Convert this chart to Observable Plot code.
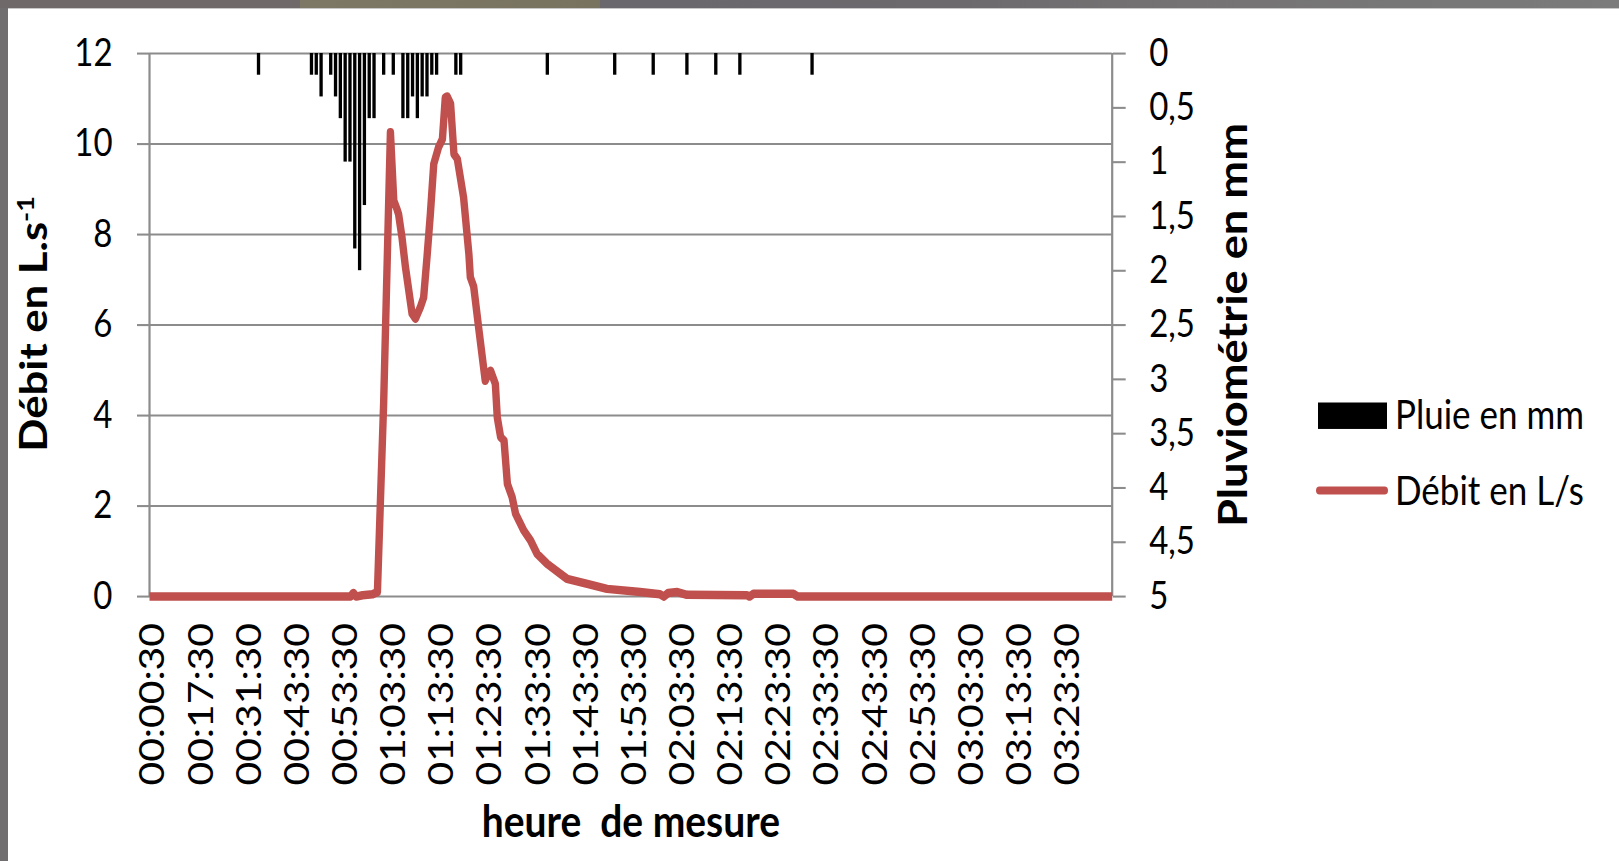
<!DOCTYPE html>
<html>
<head>
<meta charset="utf-8">
<script src="https://cdn.jsdelivr.net/npm/d3@7"></script>
<script src="https://cdn.jsdelivr.net/npm/@observablehq/plot@0.6"></script>
<style>
  html, body { margin: 0; padding: 0; width: 1619px; height: 861px; overflow: hidden; background: #716e70; }
  #topstrip { position: absolute; left: 0; top: 0; width: 1619px; height: 8px;
    background: linear-gradient(to right, #6f6a69 0px, #6f6a69 300px, #7d7766 300px, #78735f 600px, #6a676d 600px, #6d6a6e 960px, #757373 1190px, #7b7b7b 1619px); }
  #panel { position: absolute; left: 8px; top: 8px; width: 1611px; height: 853px; background: #fff; border-top: 1px solid #c8c8c8; }
  #stage { position: absolute; left: 0; top: 0; width: 1619px; transform-origin: 0 0; font-family: Lato, "Open Sans", sans-serif; }
  #stage svg text { white-space: pre; }
  .lg-box { position: absolute; }
  .lg-text { position: absolute; font-family: Lato, sans-serif; font-size: 35px; line-height: 35px; color: #000; white-space: pre; }
</style>
</head>
<body>
<div id="topstrip"></div>
<div id="panel"></div>
<div id="stage"></div>
<script>
// ---- data ----
const timeLabels = ["00:00:30","00:17:30","00:31:30","00:43:30","00:53:30","01:03:30","01:13:30","01:23:30","01:33:30","01:43:30","01:53:30","02:03:30","02:13:30","02:23:30","02:33:30","02:43:30","02:53:30","03:03:30","03:13:30","03:23:30"];
const timeTickPos = [0,10,20,30,40,50,60,70,80,90,100,110,120,130,140,150,160,170,180,190];
const flowTicks = [0,2,4,6,8,10,12];
const rainTicks = [0,0.5,1,1.5,2,2.5,3,3.5,4,4.5,5];

// rain (Pluie en mm): category index and depth
const rainPos = [22,33,34,35,37,38,39,40,41,42,43,44,45,46,48,50,52,53,54,55,56,57,58,59,63,64,82,96,104,111,117,122,137];
const rainMm  = [0.2,0.2,0.2,0.4,0.2,0.4,0.6,1.0,1.0,1.8,2.0,1.4,0.6,0.6,0.2,0.2,0.6,0.6,0.4,0.6,0.4,0.4,0.2,0.2,0.2,0.2,0.2,0.2,0.2,0.2,0.2,0.2,0.2];

// flow (Débit en L/s): category position and value
const debitPos = [-0.75,41.0,41.6,42.2,43.5,45.6,46.6,47.9,49.3,50.0,50.7,51.0,51.7,52.4,53.8,54.5,55.5,56.2,56.9,57.6,58.3,59.3,60.1,60.7,61.1,61.8,62.5,63.2,64.5,65.6,65.9,66.6,67.7,69.0,69.5,70.1,71.1,71.5,72.2,72.9,73.6,74.6,75.3,77.0,78.4,79.8,81.9,86.0,90.2,94.3,101.2,105.3,106.1,107.0,108.9,110.9,123.4,123.9,124.7,133.0,133.9,199.25];
const debitVal = [0,0,0.08,0,0.03,0.05,0.1,4.3,10.26,8.75,8.55,8.45,7.94,7.3,6.25,6.14,6.39,6.61,7.5,8.46,9.56,9.93,10.11,11.03,11.05,10.89,9.78,9.67,8.82,7.57,7.06,6.85,5.88,4.77,4.9,4.99,4.7,3.96,3.52,3.45,2.49,2.19,1.83,1.46,1.24,0.94,0.72,0.39,0.28,0.17,0.1,0.05,0,0.08,0.1,0.04,0.03,0,0.06,0.06,0,0];

const xDomain = [-0.75, 199.25];
const leftTitle = "Débit en L.s";
const leftTitleSup = "-1";
const rightTitle = "Pluviométrie en mm";
const xTitle = "heure  de mesure";
const legendItems = ["Pluie en mm", "Débit en L/s"];

// ---- layout ----
const stretch = 1.15;           // the reference is drawn taller than wide
const W = 1619, H = 861;
const PH = H / stretch;
const fTop = 53, fBottom = 596, fLeft = 149, fRight = 1111.7;

const rain = rainPos.map((p, k) => ({p, mm: rainMm[k]}));
const debit = debitPos.map((p, k) => ({p, v: debitVal[k]}));

// secondary (rain) axis: 0 mm at top, 5 mm at bottom, mapped onto the flow scale
const mmToFlow = d3.scaleLinear([0, 5], [12, 0]);
const fmtMm = v => String(+mmToFlow.invert(v).toFixed(1)).replace(".", ",");

const grid = "#8c8c8c";

const chart = Plot.plot({
  width: W,
  height: PH,
  marginLeft: fLeft,
  marginRight: W - fRight,
  marginTop: fTop / stretch,
  marginBottom: (H - fBottom) / stretch,
  style: {background: "transparent", fontFamily: "Lato, 'Open Sans', sans-serif", color: "#000", overflow: "visible"},
  x: {type: "linear", domain: xDomain},
  y: {domain: [0, 12]},
  marks: [
    Plot.gridY(flowTicks, {stroke: grid, strokeOpacity: 1, strokeWidth: 1.8}),
    Plot.ruleX(xDomain, {stroke: grid, strokeWidth: 2.2}),
    Plot.rect(rain, {
      x1: d => d.p - 0.5, x2: d => d.p + 0.5,
      y1: () => mmToFlow(0), y2: d => mmToFlow(d.mm),
      fill: "#000", insetLeft: 0.75, insetRight: 0.75
    }),
    Plot.line(debit, {x: "p", y: "v", stroke: "#C0504D", strokeWidth: 7.4, strokeLinejoin: "round", strokeLinecap: "butt"}),
    Plot.axisY(flowTicks, {anchor: "left", tickSize: 12, tickPadding: 25, fontSize: 33, label: null,
      stroke: grid, strokeOpacity: 1, strokeWidth: 1.8, fill: "#000"}),
    Plot.axisY(rainTicks.map(mmToFlow), {anchor: "right", tickSize: 13, tickPadding: 24, fontSize: 33, label: null,
      tickFormat: fmtMm, stroke: grid, strokeOpacity: 1, strokeWidth: 1.8, fill: "#000"}),
    Plot.axisX(timeTickPos, {anchor: "bottom", tickSize: 0, tickPadding: 23, tickRotate: -90, fontSize: 35.5, label: null,
      tickFormat: d => timeLabels[timeTickPos.indexOf(d)], fill: "#000"}),
    Plot.text([leftTitle], {text: d => d, frameAnchor: "left", textAnchor: "middle", dx: -115, dy: -1, rotate: -90, fontSize: 38, fontWeight: "bold", fill: "#000"}),
    Plot.text([rightTitle], {text: d => d, frameAnchor: "right", textAnchor: "middle", dx: 122, rotate: -90, fontSize: 39.3, fontWeight: "bold", fill: "#000"}),
    Plot.text([xTitle], {text: d => d, frameAnchor: "bottom", dy: (836 - fBottom) / stretch, fontSize: 39, fontWeight: "bold", fill: "#000"})
  ]
});

// superscript on the left title
d3.select(chart).selectAll("text")
  .filter(function() { return this.textContent === leftTitle; })
  .append("tspan").attr("dy", "-0.55em").attr("font-size", "0.62em").text(leftTitleSup);

const stage = document.getElementById("stage");
stage.style.height = PH + "px";
stage.style.transform = `scaleY(${stretch})`;
chart.style.position = "absolute";
chart.style.left = "0px";
chart.style.top = "0px";
stage.appendChild(chart);

// legend (drawn in the same stretched space)
function addBox(left, top, w, h, bg, radius) {
  const b = document.createElement("div");
  b.className = "lg-box";
  Object.assign(b.style, {left: left + "px", top: top / stretch + "px", width: w + "px", height: h / stretch + "px", background: bg, borderRadius: radius || "0"});
  stage.appendChild(b);
}
function addText(left, baseline, txt) {
  const t = document.createElement("div");
  t.className = "lg-text";
  t.textContent = txt;
  t.style.left = left + "px";
  t.style.top = (baseline / stretch - 31) + "px";
  stage.appendChild(t);
}
addBox(1318, 403, 69, 26, "#000");
addText(1395, 429, legendItems[0]);
addBox(1316, 487, 72, 8, "#C0504D", "4px");
addText(1395, 505, legendItems[1]);
</script>
</body>
</html>
